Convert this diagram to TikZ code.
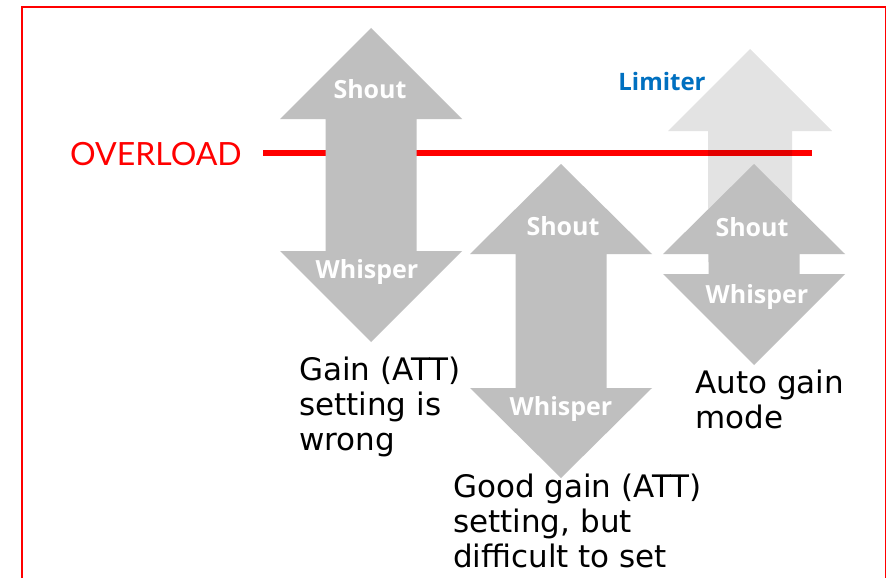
\documentclass[tikz,border=0pt]{standalone}
\usepackage{fontspec}
\setmainfont{DejaVu Sans}
\newfontfamily\labelfont{Open Sans}
\newfontfamily\redfont{Lato}
\definecolor{arrowgray}{HTML}{BFBFBF}
\definecolor{overred}{HTML}{FF0000}
\definecolor{limblue}{HTML}{0070C0}
\tikzset{
  frameline/.style={draw=overred, line width=1.3pt},
  levelline/.style={draw=overred, line width=6.5pt},
  grayarrow/.style={fill=arrowgray},
  ghostarrow/.style={fill=black, fill opacity=0.11},
  arrowtext/.style={text=white, font=\labelfont\bfseries\fontsize{25}{28}\selectfont, inner sep=0pt},
  caption/.style={anchor=base west, align=left, inner sep=0pt, font=\fontsize{31}{35}\selectfont},
}
% double-headed block arrow: centre x, top tip, top head base, bottom head base, bottom tip
\newcommand{\twowayarrow}[5]{%
  \fill[grayarrow] (#1,#2) -- (#1+91,#3) -- (#1+45.5,#3) -- (#1+45.5,#4) -- (#1+91,#4)
    -- (#1,#5) -- (#1-91,#4) -- (#1-45.5,#4) -- (#1-45.5,#3) -- (#1-91,#3) -- cycle;}
\begin{document}
\begin{tikzpicture}[x=1pt,y=-1pt]
\useasboundingbox (0,0) rectangle (895,578);
\fill[white] (0,0) rectangle (895,578);

% outer frame (runs off the bottom)
\coordinate (fbl) at (22,590);
\coordinate (ftl) at (22,7);
\coordinate (ftr) at (885.5,7);
\coordinate (fbr) at (885.5,590);
\draw[frameline] (fbl) -- (ftl) -- (ftr) -- (fbr);

% overload level
\node[text=overred, font=\redfont\fontsize{32}{35}\selectfont, anchor=base west, inner sep=0pt]
  (overload) at (70,165) {OVERLOAD};
\coordinate (lvlL) at (263,153);
\coordinate (lvlR) at (812,153);
\draw[levelline] (lvlL) -- (lvlR);

% limiter ghost arrow
\fill[ghostarrow] (750,49) -- (832,131) -- (792,131) -- (792,262) -- (708,262) -- (708,131) -- (668,131) -- cycle;
\node[text=limblue, font=\labelfont\bfseries\fontsize{24}{26}\selectfont, inner sep=0pt] (limiter) at (662,82) {Limiter};

% the three level ranges
\twowayarrow{371}{28}{119}{251}{342}
\twowayarrow{561}{164}{254}{388}{478}
\twowayarrow{754}{164}{254}{274}{365}

\node[arrowtext] (shoutA) at (370,89) {Shout};
\node[arrowtext] (whisperA) at (367,272) {Whisper};
\node[arrowtext] (shoutB) at (563,226) {Shout};
\node[arrowtext] (whisperB) at (561,409) {Whisper};
\node[arrowtext] (shoutC) at (752,227) {Shout};
\node[arrowtext] (whisperC) at (757,297) {Whisper};

% captions (anchored on the baseline of their last line)
\node[caption] (capA) at (299,450) {Gain (ATT)\\setting is\\wrong};
\node[caption] (capB) at (453,567) {Good gain (ATT)\\setting, but\\difficult to set};
\node[caption] (capC) at (695,428) {Auto gain\\mode};
\end{tikzpicture}
\end{document}
